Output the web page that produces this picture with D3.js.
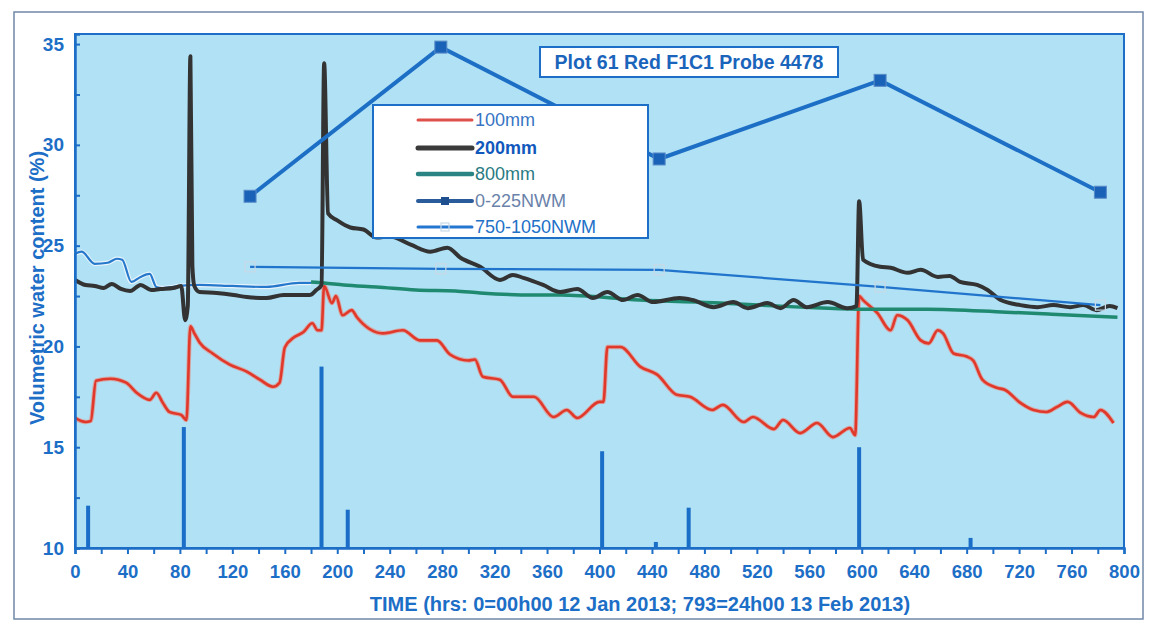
<!DOCTYPE html>
<html>
<head>
<meta charset="utf-8">
<script src="https://cdn.jsdelivr.net/npm/d3@7/dist/d3.min.js"></script>
<style>
  html, body { margin: 0; padding: 0; background: #ffffff; }
  svg { display: block; font-family: "Liberation Sans", Arial, sans-serif; }
</style>
</head>
<body>
<svg id="chart" width="1154" height="627"></svg>
<script>
// ---- Soil moisture probe readings (hours since 00h00 12 Jan 2013) ----
const xTickValues = d3.range(0, 801, 40);
const yTickValues = [10, 15, 20, 25, 30, 35];

// Rainfall events drawn as bars rising from the axis floor
const rainHours  = [10, 83, 188, 208, 402, 443, 468, 598, 683];
const rainValues = [12.1, 16.0, 19.0, 11.9, 14.8, 10.3, 12.0, 15.0, 10.5];

// 100 mm sensor
const hours100 = [0, 8, 12, 16, 27, 39, 47, 57, 62, 67, 72, 81, 85, 88, 91, 95, 105, 118, 131, 141, 151, 156, 160, 167, 174, 181, 185, 188, 190, 196, 199, 204, 211, 215, 235, 250, 263, 276, 286, 300, 305, 311, 324, 334, 350, 365, 375, 383, 400, 403, 406, 416, 431, 444, 459, 469, 486, 494, 510, 517, 533, 540, 553, 566, 578, 591, 595, 598, 601, 612, 622, 627, 635, 645, 651, 658, 662, 670, 680, 685, 692, 703, 709, 721, 731, 741, 749, 757, 767, 777, 782, 792];
const values100 = [16.45, 16.25, 16.3, 18.3, 18.4, 18.2, 17.7, 17.35, 17.7, 17.2, 16.75, 16.6, 16.35, 21.0, 20.65, 20.2, 19.65, 19.1, 18.75, 18.35, 18.0, 18.2, 19.95, 20.45, 20.7, 21.15, 20.8, 20.8, 23.0, 22.15, 22.5, 21.55, 21.8, 21.45, 20.65, 20.8, 20.3, 20.3, 19.6, 19.3, 19.35, 18.5, 18.35, 17.5, 17.5, 16.5, 16.85, 16.45, 17.25, 17.25, 19.97, 19.97, 19.0, 18.6, 17.6, 17.5, 16.85, 17.1, 16.25, 16.5, 15.9, 16.35, 15.7, 16.2, 15.5, 15.95, 15.6, 22.5, 22.3, 21.65, 20.8, 21.55, 21.3, 20.3, 20.15, 20.8, 20.65, 19.65, 19.5, 19.3, 18.35, 17.95, 17.85, 17.2, 16.85, 16.75, 17.0, 17.25, 16.7, 16.5, 16.85, 16.2];

// 200 mm sensor
const hours200 = [0, 8, 15, 22, 28, 35, 42, 50, 58, 65, 75, 81, 84, 86, 88, 89.5, 91, 95, 108, 121, 131, 146, 159, 172, 179, 184, 188, 190, 193, 200, 210, 220, 230, 240, 256, 271, 284, 294, 309, 324, 334, 342, 357, 370, 383, 395, 406, 418, 429, 441, 461, 471, 487, 502, 513, 528, 538, 548, 558, 574, 589, 596, 598, 601, 614, 622, 635, 645, 658, 667, 675, 688, 696, 706, 721, 734, 746, 759, 769, 779, 789, 795];
const values200 = [23.3, 23.05, 23.0, 22.9, 23.1, 22.85, 22.75, 23.05, 22.8, 22.85, 22.9, 23.0, 21.3, 22.0, 34.4, 24.0, 23.0, 22.7, 22.65, 22.55, 22.45, 22.4, 22.55, 22.55, 22.55, 22.8, 23.05, 34.05, 26.6, 26.25, 25.9, 25.8, 25.4, 25.45, 25.05, 24.7, 24.9, 24.4, 23.95, 23.3, 23.55, 23.4, 23.05, 22.7, 22.85, 22.4, 22.7, 22.3, 22.55, 22.2, 22.4, 22.3, 21.95, 22.2, 21.9, 22.15, 21.9, 22.3, 21.95, 22.2, 21.9, 22.0, 27.2, 24.3, 23.95, 23.9, 23.65, 23.8, 23.45, 23.5, 23.2, 23.05, 22.8, 22.3, 22.05, 21.95, 22.05, 21.95, 22.05, 21.8, 22.0, 21.9];

// 800 mm sensor, first stretch (logged before the probe was reset)
const hours800Early = [0, 5, 15, 25, 32, 36, 43, 50, 57, 62, 67, 80, 95, 120, 146, 171, 180];
const values800Early = [24.6, 24.7, 24.1, 24.15, 24.35, 24.3, 23.2, 23.45, 23.6, 22.95, 22.9, 23.0, 23.05, 23.0, 22.95, 23.15, 23.15];

// 800 mm sensor
const hours800 = [180, 190, 205, 230, 260, 290, 309, 350, 370, 431, 492, 553, 597, 650, 710, 745, 795];
const values800 = [23.2, 23.15, 23.05, 22.95, 22.8, 22.75, 22.65, 22.55, 22.55, 22.3, 22.15, 21.95, 21.85, 21.85, 21.7, 21.6, 21.45];

// Neutron water meter readings
const nwmHours = [133.5, 279, 445.5, 614, 782];
const nwm0to225 = [27.45, 34.85, 29.3, 33.2, 27.65];
const nwm750to1050 = [23.95, 23.85, 23.8, 22.95, 22.05];

const legendLabels = ["100mm", "200mm", "800mm", "0-225NWM", "750-1050NWM"];
const chartTitle = "Plot 61 Red F1C1 Probe 4478";

// ---- drawing ----
const BLUE = "#1c6ec6";
const FONT = "Liberation Sans, Arial, sans-serif";
const svg = d3.select("#chart");

const x = d3.scaleLinear().domain([0, 800]).range([75, 1124]);
const y = d3.scaleLinear().domain([10, 35.5]).range([548, 34]);

// outer frame
svg.append("rect").attr("x", 14).attr("y", 12).attr("width", 1129).attr("height", 607)
  .attr("fill", "#ffffff").attr("stroke", "#7088a8").attr("stroke-width", 1.5);

// plot area
svg.append("rect")
  .attr("x", x(0)).attr("y", y(35.5))
  .attr("width", x(800) - x(0)).attr("height", y(10) - y(35.5))
  .attr("fill", "#b0e1f5").attr("stroke", BLUE).attr("stroke-width", 2);

// rainfall bars
svg.append("g").selectAll("rect").data(rainHours.map((h, i) => [h, rainValues[i]]))
  .join("rect")
  .attr("x", d => x(d[0]) - 2)
  .attr("width", 4)
  .attr("y", d => y(d[1]))
  .attr("height", d => y(10) - y(d[1]))
  .attr("fill", "#1b6ec8");

const line = d3.line().x(d => x(d[0])).y(d => y(d[1])).curve(d3.curveMonotoneX);
const straight = d3.line().x(d => x(d[0])).y(d => y(d[1]));
const zip = (a, b) => a.map((v, i) => [v, b[i]]);

// 100 mm
svg.append("path").attr("d", line(zip(hours100, values100)))
  .attr("fill", "none").attr("stroke", "#f08070").attr("stroke-width", 4.5).attr("opacity", 0.6);
svg.append("path").attr("d", line(zip(hours100, values100)))
  .attr("fill", "none").attr("stroke", "#e0382a").attr("stroke-width", 2.6).attr("stroke-linejoin", "round");

// 800 mm
svg.append("path").attr("d", line(zip(hours800, values800)))
  .attr("fill", "none").attr("stroke", "#1f8a70").attr("stroke-width", 3.5).attr("stroke-linejoin", "round");

// 800 mm, early stretch
svg.append("path").attr("d", line(zip(hours800Early, values800Early)))
  .attr("fill", "none").attr("stroke", "#e8f4fb").attr("stroke-width", 4.5);
svg.append("path").attr("d", line(zip(hours800Early, values800Early)))
  .attr("fill", "none").attr("stroke", "#2578cc").attr("stroke-width", 2.2);

// 200 mm
svg.append("path").attr("d", line(zip(hours200, values200)))
  .attr("fill", "none").attr("stroke", "#333333").attr("stroke-width", 4).attr("stroke-linejoin", "round");

// 750-1050 NWM
svg.append("path").attr("d", straight(zip(nwmHours, nwm750to1050)))
  .attr("fill", "none").attr("stroke", "#2074cc").attr("stroke-width", 2.2);
svg.append("g").selectAll("rect").data(zip(nwmHours, nwm750to1050)).join("rect")
  .attr("x", d => x(d[0]) - 5).attr("y", d => y(d[1]) - 5)
  .attr("width", 10).attr("height", 10)
  .attr("fill", "none").attr("stroke", "#c9d9e6").attr("stroke-width", 1.2);

// 0-225 NWM
svg.append("path").attr("d", straight(zip(nwmHours, nwm0to225)))
  .attr("fill", "none").attr("stroke", "#1d6fc6").attr("stroke-width", 4);
svg.append("g").selectAll("rect").data(zip(nwmHours, nwm0to225)).join("rect")
  .attr("x", d => x(d[0]) - 6).attr("y", d => y(d[1]) - 6)
  .attr("width", 12).attr("height", 12)
  .attr("fill", "#1a62b8").attr("stroke", "#5a8cc8").attr("stroke-width", 1);

// axes
const xAxis = d3.axisBottom(x).tickValues(d3.range(0, 801, 20))
  .tickFormat(d => (xTickValues.includes(d) ? d : "")).tickSize(6).tickPadding(11);
const gx = svg.append("g").attr("transform", `translate(0,${y(10)})`).call(xAxis);
gx.select(".domain").attr("stroke", BLUE).attr("stroke-width", 2.5);
gx.selectAll(".tick line").attr("stroke", BLUE).attr("stroke-width", 2);
gx.selectAll(".tick text").attr("fill", BLUE).attr("font-size", 18.5).attr("font-weight", "bold")
  .attr("font-family", FONT);

const yAxis = d3.axisLeft(y).tickValues(d3.range(10, 35.01, 2.5))
  .tickFormat(d => (yTickValues.includes(d) ? d : "")).tickSize(-5).tickPadding(11);
const gy = svg.append("g").attr("transform", `translate(${x(0)},0)`).call(yAxis);
gy.select(".domain").attr("stroke", BLUE).attr("stroke-width", 2.5);
gy.selectAll(".tick line").attr("stroke", BLUE).attr("stroke-width", 2);
gy.selectAll(".tick text").attr("fill", BLUE).attr("font-size", 19).attr("font-weight", "bold")
  .attr("font-family", FONT);

// axis titles
svg.append("text")
  .attr("transform", "translate(37,288) rotate(-90)")
  .attr("text-anchor", "middle").attr("dominant-baseline", "central")
  .attr("fill", BLUE).attr("font-size", 20).attr("font-weight", "bold")
  .text("Volumetric water content (%)");

svg.append("text")
  .attr("x", 640).attr("y", 604)
  .attr("text-anchor", "middle").attr("dominant-baseline", "central")
  .attr("fill", BLUE).attr("font-size", 20).attr("font-weight", "bold")
  .text("TIME (hrs: 0=00h00 12 Jan 2013; 793=24h00 13 Feb 2013)");

// title box
const title = svg.append("g");
title.append("rect").attr("x", 540).attr("y", 47).attr("width", 298).attr("height", 30)
  .attr("fill", "#ffffff").attr("stroke", BLUE).attr("stroke-width", 2);
title.append("text").attr("x", 689).attr("y", 62)
  .attr("text-anchor", "middle").attr("dominant-baseline", "central")
  .attr("fill", "#1a64bc").attr("font-size", 19.5).attr("font-weight", "bold")
  .text(chartTitle);

// legend
const legend = svg.append("g");
legend.append("rect").attr("x", 373).attr("y", 105).attr("width", 275).attr("height", 133)
  .attr("fill", "#ffffff").attr("stroke", BLUE).attr("stroke-width", 2);
const legendStyle = [
  { stroke: "#e0504a", width: 3, text: "#3774c4", weight: "normal", marker: null },
  { stroke: "#3a3a3a", width: 5, text: "#1158bd", weight: "bold", marker: null },
  { stroke: "#2a8484", width: 4.5, text: "#2a7a84", weight: "normal", marker: null },
  { stroke: "#2a5c9c", width: 4, text: "#6a82aa", weight: "normal", marker: "filled" },
  { stroke: "#2476d0", width: 3, text: "#2270c8", weight: "normal", marker: "hollow" }
];
const rowY = [120, 148, 174, 201, 227];
legendLabels.forEach((lab, i) => {
  const s = legendStyle[i];
  legend.append("line").attr("x1", 418).attr("x2", 472).attr("y1", rowY[i]).attr("y2", rowY[i])
    .attr("stroke", s.stroke).attr("stroke-width", s.width).attr("stroke-linecap", "round");
  if (s.marker === "filled") {
    legend.append("rect").attr("x", 441).attr("y", rowY[i] - 4).attr("width", 8).attr("height", 8)
      .attr("fill", "#1e4f8e");
  } else if (s.marker === "hollow") {
    legend.append("rect").attr("x", 441).attr("y", rowY[i] - 4).attr("width", 8).attr("height", 8)
      .attr("fill", "none").attr("stroke", "#c9d9e6").attr("stroke-width", 1.2);
  }
  legend.append("text").attr("x", 475).attr("y", rowY[i])
    .attr("dominant-baseline", "central")
    .attr("fill", s.text).attr("font-size", 18).attr("font-weight", s.weight)
    .text(lab);
});
</script>
</body>
</html>
